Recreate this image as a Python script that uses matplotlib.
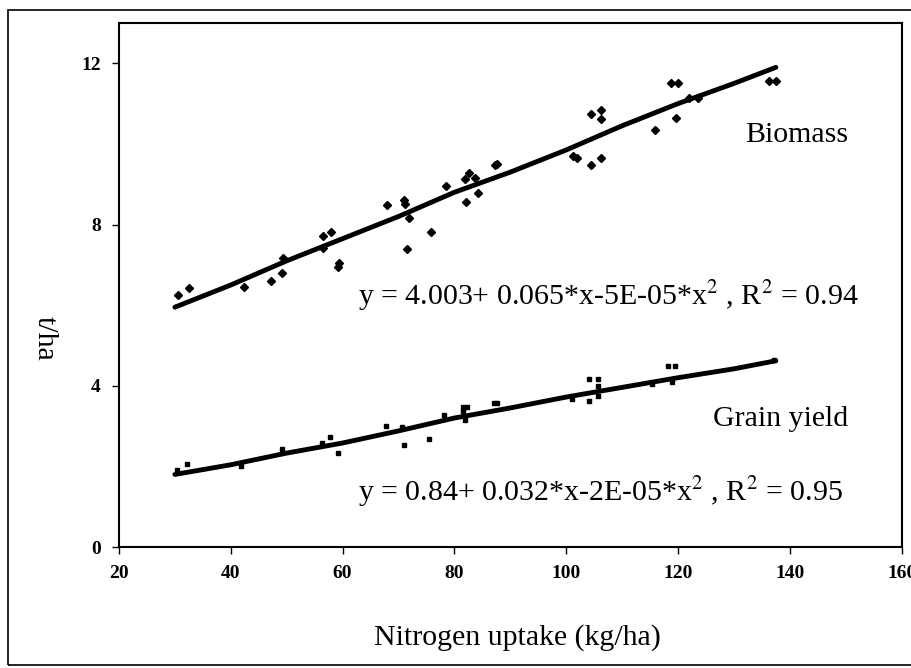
import numpy as np
import matplotlib
matplotlib.use("Agg")
import matplotlib.pyplot as plt
from matplotlib.patches import Rectangle

plt.rcParams['font.family'] = ['Liberation Serif', 'DejaVu Serif']
plt.rcParams['mathtext.fontset'] = 'stix'

# biomass observations (t/ha) vs nitrogen uptake (kg/ha)
bio_x = [30.6, 32.5, 42.4, 47.2, 49.1, 49.4, 56.5, 56.5, 58.0, 59.1, 59.3,
         68.0, 71.0, 71.2, 71.9, 71.5, 75.8, 78.5, 82.1, 82.6, 81.9, 83.7,
         84.3, 87.2, 87.7, 101.3, 101.9, 104.4, 106.2, 104.4, 106.2, 106.2,
         115.9, 119.6, 118.7, 120.0, 122.0, 123.6, 136.3, 137.6]
bio_y = [6.25, 6.42, 6.46, 6.61, 6.81, 7.17, 7.71, 7.43, 7.82, 6.95, 7.05,
         8.48, 8.6, 8.5, 8.15, 7.39, 7.82, 8.95, 8.57, 9.29, 9.13, 9.15,
         8.78, 9.47, 9.50, 9.70, 9.64, 9.48, 9.64, 10.73, 10.83, 10.61,
         10.34, 10.65, 11.52, 11.52, 11.13, 11.13, 11.56, 11.56]

# grain yield observations
grain_x = [30.3, 32.1, 41.9, 49.2, 56.3, 57.7, 59.1, 67.8, 70.7, 71.0, 75.5,
           78.1, 81.5, 82.2, 81.6, 81.9, 87.0, 87.6, 101.1, 104.0, 104.0,
           105.7, 105.7, 105.7, 115.3, 118.3, 119.5, 119.0, 137.1]
grain_y = [1.92, 2.05, 2.0, 2.44, 2.58, 2.72, 2.33, 3.0, 2.98, 2.54, 2.69,
           3.27, 3.47, 3.47, 3.37, 3.14, 3.58, 3.58, 3.66, 4.18, 3.61,
           4.16, 3.99, 3.74, 4.05, 4.5, 4.5, 4.09, 4.63]

# fitted curves as drawn in the figure
fit_x = [30, 40, 50, 60, 70, 80, 90, 100, 110, 120, 130, 137.5]
bio_fit = [5.95, 6.5, 7.1, 7.65, 8.2, 8.8, 9.3, 9.85, 10.45, 11.0, 11.5, 11.9]
grain_fit = [1.8, 2.04, 2.33, 2.58, 2.88, 3.2, 3.45, 3.72, 3.96, 4.2, 4.42, 4.62]

xticks = [20, 40, 60, 80, 100, 120, 140, 160]
yticks = [0, 4, 8, 12]

eq_bio = "y = 4.003+ 0.065*x-5E-05*x$^2$ , R$^2$ = 0.94"
eq_grain = "y = 0.84+ 0.032*x-2E-05*x$^2$ , R$^2$ = 0.95"

fig = plt.figure(figsize=(9.12, 6.68), dpi=100)
ax = fig.add_axes([119/912, 1-547/668, (901.6-119)/912, (547-23)/668])

# outer frame of the scanned figure
fig.patches.append(Rectangle((8/912, 3/668), 1.2, 0.985-3/668, transform=fig.transFigure,
                             fill=False, lw=1.2, ec='black'))

ax.plot(bio_x, bio_y, 'D', color='black', ms=4.5, ls='none')
ax.plot(grain_x, grain_y, 's', color='black', ms=2.5, ls='none')
ax.plot(fit_x, bio_fit, color='black', lw=3.5, solid_capstyle='round')
ax.plot(fit_x, grain_fit, color='black', lw=3.5, solid_capstyle='round')

ax.set_xlim(20, 160)
ax.set_ylim(0, 13)
ax.set_xticks(xticks)
ax.set_yticks(yticks)
ax.tick_params(direction='out', length=5, width=1, labelsize=14, pad=8)
for lab in ax.get_xticklabels() + ax.get_yticklabels():
    lab.set_fontweight('bold')
for s in ax.spines.values():
    s.set_linewidth(1.5)

fig.text(517/912, 1-638/668, "Nitrogen uptake (kg/ha)", fontsize=21.5,
         ha='center', va='center')
fig.text(45/912, 1-338/668, "t/ha", fontsize=21.5, rotation=-90,
         ha='center', va='center')

ax.text(132, 10.05, "Biomass", fontsize=21.5)
ax.text(62.8, 6.0, eq_bio, fontsize=21.5)
ax.text(126.3, 3.0, "Grain yield", fontsize=21.5)
ax.text(62.8, 1.15, eq_grain, fontsize=21.5)

fig.savefig("out.png", dpi=100)
